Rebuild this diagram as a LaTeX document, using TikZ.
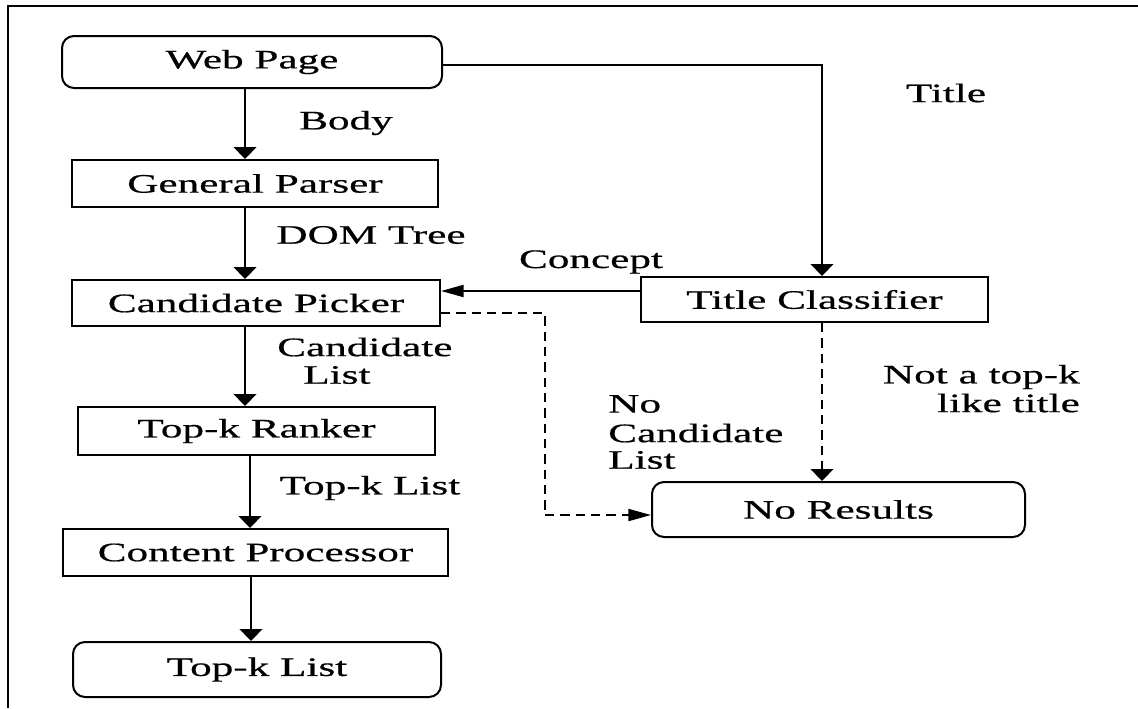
\documentclass[tikz,border=0pt]{standalone}
\usepackage{fontspec}
\setmainfont[FakeStretch=1.62,FakeBold=0.6]{Liberation Serif}
\usetikzlibrary{arrows.meta}
\begin{document}
\begin{tikzpicture}[x=0.75pt,y=-0.75pt,
  font=\fontsize{20}{20}\selectfont,
  box/.style={draw, line width=1.5pt, inner sep=0pt},
  rbox/.style={box, rounded corners=9pt},
  lbl/.style={inner sep=0pt},
  vflow/.style={line width=1.5pt, -{Triangle[length=9pt,width=17pt]}},
  hflow/.style={line width=1.5pt, -{Triangle[length=17pt,width=9pt]}},
  dflow/.style={line width=1.5pt, dash pattern=on 7pt off 4.5pt}]
\useasboundingbox (0,0) rectangle (1138,708);
% outer frame (top and left edges)
\draw[line width=1.5pt] (1138,6) -- (8,6) -- (8,708);

% main pipeline
\node[rbox, minimum width=285pt, minimum height=39pt] (wp) at (252,62) {Web Page};
\node[box, minimum width=274.5pt, minimum height=35.25pt] (gp) at (255,183.5) {General Parser};
\node[box, minimum width=276pt, minimum height=34.5pt] (cp) at (256,303) {Candidate Picker};
\node[box, minimum width=267.75pt, minimum height=36pt] (tr) at (256.5,431) {Top-k Ranker};
\node[box, minimum width=288.75pt, minimum height=35.25pt] (pr) at (255.5,552.5) {Content Processor};
\node[rbox, minimum width=276pt, minimum height=41.25pt] (tl) at (257,669.5) {Top-k List};

% title branch
\node[box, minimum width=260.25pt, minimum height=33.75pt] (tc) at (814.5,299.5) {Title Classifier};
\node[rbox, minimum width=279.75pt, minimum height=41.25pt] (nr) at (838.5,509.5) {No Results};

% guide coordinates for connector positions
\coordinate (xa) at (245,0);
\coordinate (xb) at (250,0);
\coordinate (xc) at (251,0);
\coordinate (xt) at (822,0);
\coordinate (yc) at (0,291);
\coordinate (yd) at (0,313);
\coordinate (yn) at (0,515);
\coordinate (xd) at (545,0);

% vertical flow
\draw[vflow] (wp.south -| xa) -- (gp.north -| xa);
\draw[vflow] (gp.south -| xa) -- (cp.north -| xa);
\draw[vflow] (cp.south -| xa) -- (tr.north -| xa);
\draw[vflow] (tr.south -| xb) -- (pr.north -| xb);
\draw[vflow] (pr.south -| xc) -- (tl.north -| xc);

% title path
\draw[vflow] ([yshift=-2.25pt]wp.east) -| (tc.north -| xt);
\draw[hflow] (tc.west |- yc) -- (cp.east |- yc);

% failure paths
\draw[dflow] (cp.east |- yd) -- (xd |- yd) -- (xd |- yn);
\draw[dflow, -{Triangle[length=17pt,width=9pt]}] (xd |- yn) -- (nr.west |- yn);
\draw[dflow, -{Triangle[length=9pt,width=17pt]}] (tc.south -| xt) -- (nr.north -| xt);

% edge labels
\node[lbl] (lbody) at (346,123) {Body};
\node[lbl] (ldom) at (371,235) {DOM Tree};
\node[lbl, anchor=west] (lcand1) at (277,347) {Candidate};
\node[lbl, anchor=west] (lcand2) at (303,375) {List};
\node[lbl] (ltopk) at (370,488) {Top-k List};
\node[lbl] (ltitle) at (946,93) {Title};
\node[lbl] (lconcept) at (591,262) {Concept};
\node[lbl, anchor=west] (lno1) at (608,404) {No};
\node[lbl, anchor=west] (lno2) at (608,433) {Candidate};
\node[lbl, anchor=west] (lno3) at (608,460) {List};
\node[lbl, anchor=east] (lnot1) at (1080,377) {Not a top-k};
\node[lbl, anchor=east] (lnot2) at (1080,403) {like title};
\end{tikzpicture}
\end{document}
